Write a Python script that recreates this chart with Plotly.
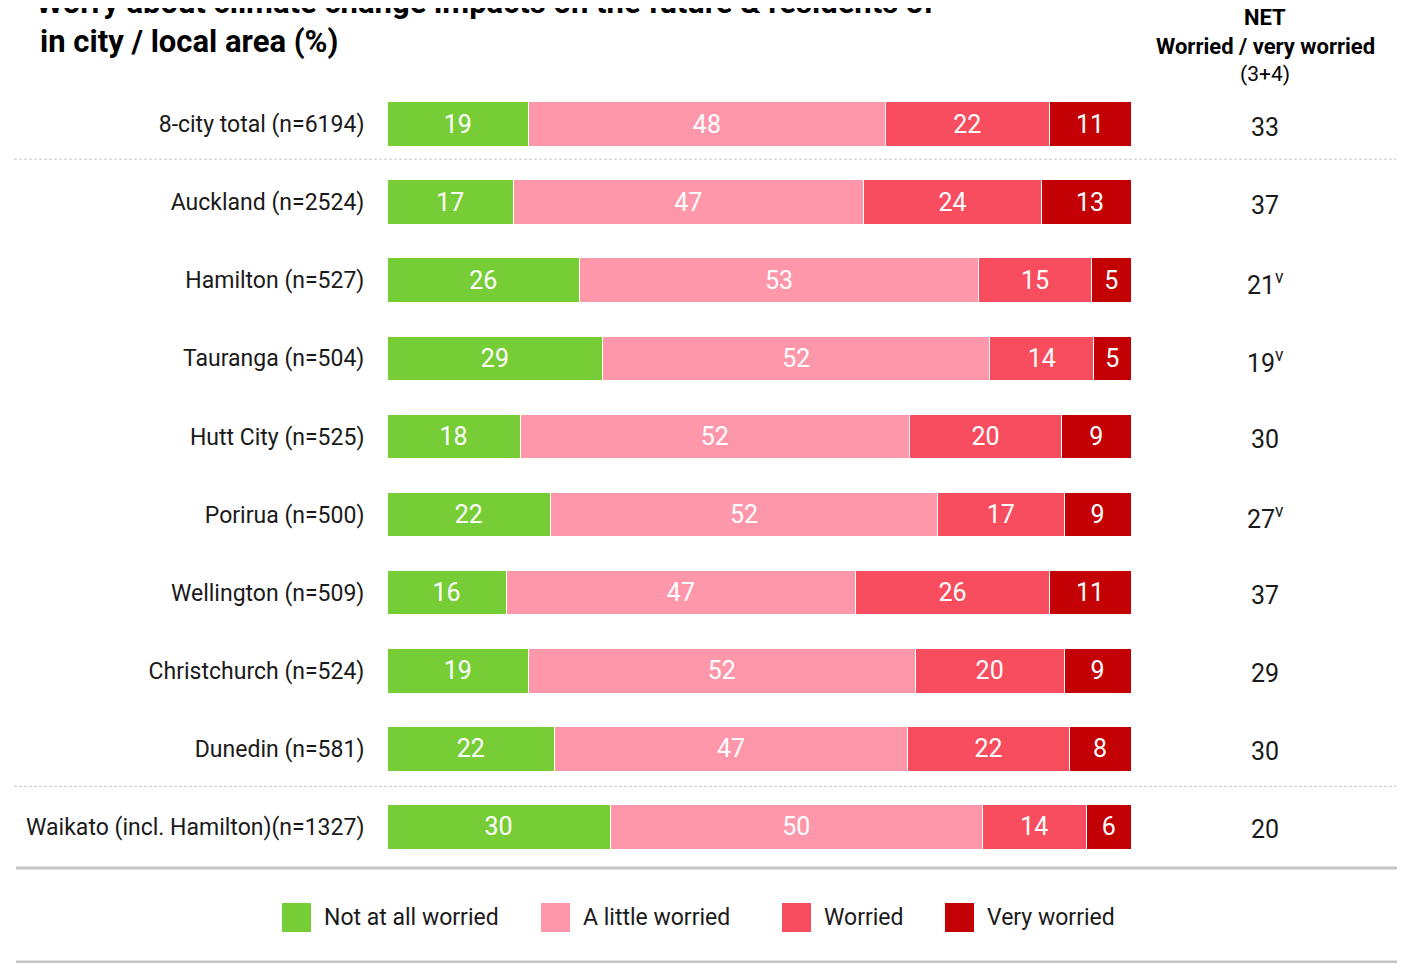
import plotly.graph_objects as go

# Data
cities = ["8-city total (n=6194)", "Auckland (n=2524)", "Hamilton (n=527)", "Tauranga (n=504)",
          "Hutt City (n=525)", "Porirua (n=500)", "Wellington (n=509)", "Christchurch (n=524)",
          "Dunedin (n=581)", "Waikato (incl. Hamilton)(n=1327)"]

# printed (rounded) labels
not_at_all_lbl = [19, 17, 26, 29, 18, 22, 16, 19, 22, 30]
a_little_lbl = [48, 47, 53, 52, 52, 52, 47, 52, 47, 50]
worried_lbl = [22, 24, 15, 14, 20, 17, 26, 20, 22, 14]
very_worried_lbl = [11, 13, 5, 5, 9, 9, 11, 9, 8, 6]

# segment lengths as drawn (some rows carry unrounded shares)
not_at_all = [19, 17, 25.9, 29, 17.9, 22, 16, 19, 22.5, 30]
a_little = [48, 47, 53.6, 52, 52.3, 52, 47, 52, 47.5, 50]
worried = [22, 24, 15.2, 14, 20.5, 17, 26, 20, 21.7, 14]
very_worried = [11, 13, 5.3, 5, 9.3, 9, 11, 9, 8.3, 6]

net_worried = ["33", "37", "21<sup>v</sup>", "19<sup>v</sup>", "30", "27<sup>v</sup>", "37", "29", "30", "20"]

series_names = ["Not at all worried", "A little worried", "Worried", "Very worried"]
series_values = [not_at_all, a_little, worried, very_worried]
series_labels = [not_at_all_lbl, a_little_lbl, worried_lbl, very_worried_lbl]
colors = ["#77CD35", "#FF97AB", "#F74D5E", "#C30003"]

FONT = "Roboto, sans-serif"
W, H = 1414, 963
OFF = 8  # page body margin


def px(x):
    return (x - OFF) / W


def py(y):
    return 1 - (y - OFF) / H


fig = go.Figure()
for name, vals, lbls, col in zip(series_names, series_values, series_labels, colors):
    fig.add_trace(go.Bar(
        y=cities, x=vals, name=name, orientation="h",
        marker=dict(color=col, line=dict(color="white", width=1)),
        text=lbls, textposition="inside", insidetextanchor="middle",
        textangle=0, textfont=dict(color="white", size=25, family=FONT),
        showlegend=False,
    ))

fig.update_layout(
    barmode="stack", bargap=0.43,
    width=W, height=H,
    margin=dict(l=0, r=0, t=0, b=0),
    plot_bgcolor="white", paper_bgcolor="white",
    font=dict(family=FONT, color="#1a1a1a"),
    uniformtext=dict(minsize=25, mode="show"),
    xaxis=dict(domain=[px(387), px(1131)], range=[0, 100], visible=False, fixedrange=True),
    yaxis=dict(domain=[py(866), py(85)], type="category", categoryarray=cities,
               autorange="reversed", showgrid=False, zeroline=False, showline=False,
               ticks="outside", ticklen=17, tickcolor="white",
               tickfont=dict(size=23, color="#1a1a1a", family=FONT)),
)

# NET column values
for c, v in zip(cities, net_worried):
    fig.add_annotation(x=px(1265), xref="paper", y=c, yref="y", text=v, showarrow=False,
                       xanchor="center", yanchor="middle", yshift=-3,
                       font=dict(size=25, color="#1a1a1a", family=FONT))

# NET header
header = [("<b>NET</b>", 17, 22), ("<b>Worried / very worried</b>", 46, 22), ("(3+4)", 74, 21)]
for txt, yy, sz in header:
    fig.add_annotation(x=px(1265), xref="paper", y=py(yy), yref="paper", text=txt,
                       xanchor="center", yanchor="middle", showarrow=False,
                       font=dict(size=sz, color="black", family=FONT))

# Title (first line runs off the top edge as in the reference)
fig.add_annotation(x=px(34), xref="paper", y=py(3), yref="paper", xanchor="left", yanchor="middle",
                   text="<b>Worry about climate change impacts on the future & residents of</b>",
                   showarrow=False, font=dict(size=31, color="black", family=FONT))
fig.add_annotation(x=px(38), xref="paper", y=py(41), yref="paper", xanchor="left", yanchor="middle",
                   text="<b>in city / local area (%)</b>",
                   showarrow=False, font=dict(size=31, color="black", family=FONT))

# separators
for yv in [0.45, 8.48]:
    fig.add_shape(type="line", xref="paper", yref="y", x0=px(14), x1=px(1396), y0=yv, y1=yv,
                  line=dict(color="#C8C8C8", width=1, dash="3px,2px"))
for yy in [868, 962]:
    fig.add_shape(type="line", xref="paper", yref="paper", x0=px(16), x1=px(1397),
                  y0=py(yy), y1=py(yy), line=dict(color="#C4C4C4", width=3))

# legend
legend_x = [282, 541, 782, 945]
for lx, name, col in zip(legend_x, series_names, colors):
    fig.add_shape(type="rect", xref="paper", yref="paper", x0=px(lx), x1=px(lx + 29),
                  y0=py(932), y1=py(903), fillcolor=col, line=dict(width=0))
    fig.add_annotation(x=px(lx + 40), xref="paper", y=py(917), yref="paper",
                       xanchor="left", yanchor="middle", text=name, showarrow=False,
                       font=dict(size=23, color="#1a1a1a", family=FONT))

fig.write_html("out.html")
